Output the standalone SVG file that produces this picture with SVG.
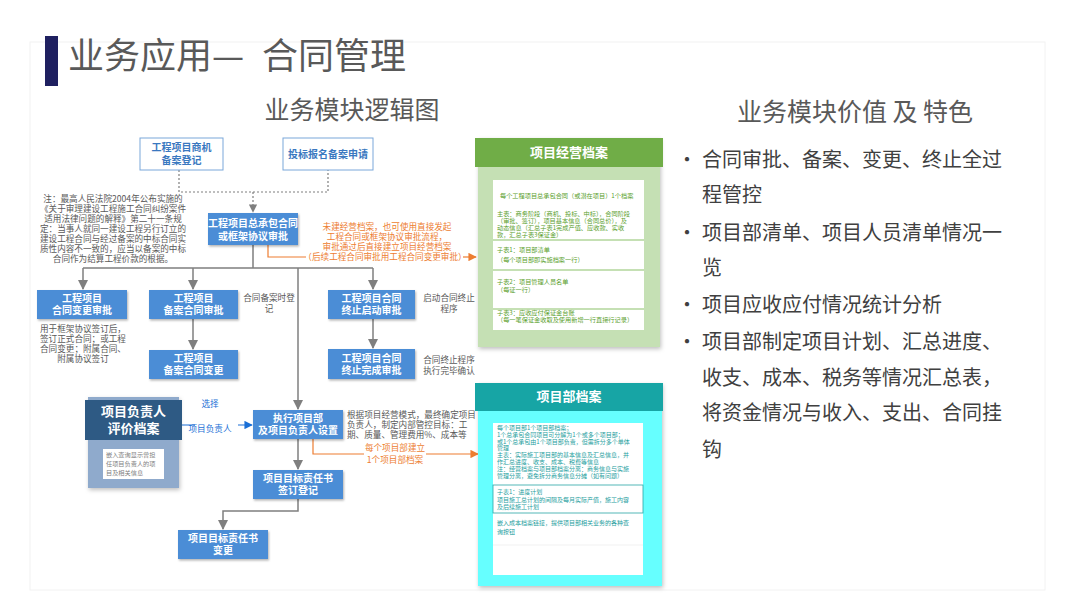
<svg xmlns="http://www.w3.org/2000/svg" width="1080" height="608" viewBox="0 0 1080 608">
<defs>
<filter id="sh" x="-10%" y="-10%" width="130%" height="140%"><feDropShadow dx="1" dy="1.5" stdDeviation="1.2" flood-color="#000" flood-opacity="0.3"/></filter>
<filter id="sh2" x="-10%" y="-10%" width="130%" height="130%"><feDropShadow dx="1" dy="2" stdDeviation="2" flood-color="#000" flood-opacity="0.25"/></filter>
<marker id="ag" viewBox="0 0 10 10" refX="9" refY="5" markerWidth="7" markerHeight="7" orient="auto"><path d="M0,0 L10,5 L0,10 z" fill="#7f7f7f"/></marker>
<marker id="ao" viewBox="0 0 10 10" refX="9" refY="5" markerWidth="7" markerHeight="7" orient="auto"><path d="M0,0 L10,5 L0,10 z" fill="#ed7d31"/></marker>
<marker id="ab" viewBox="0 0 10 10" refX="9" refY="5" markerWidth="7" markerHeight="7" orient="auto"><path d="M0,0 L10,5 L0,10 z" fill="#1a6fd6"/></marker>
<style>
text{font-family:"Noto Sans CJK SC","Noto Sans",sans-serif}
.bx{fill:#4b8dd6;filter:url(#sh)}
.bt{fill:#fff;font-size:10px;font-weight:bold;text-anchor:middle}
.ob{fill:#fff;stroke:#7aa7da;stroke-width:1}
.ot{fill:#3a78c0;font-size:10px;font-weight:bold;text-anchor:middle}
.nt{fill:#595959;font-size:8.6px}
.mid{text-anchor:middle}
.or{fill:#ed7d31;font-size:8.6px;text-anchor:middle}
.ln{fill:none;stroke:#7f7f7f;stroke-width:1.5}
.lo{fill:none;stroke:#ed7d31;stroke-width:1.2}
.gt{fill:#5aa02c;font-size:6.2px}
.ct{fill:#1e9e9e;font-size:6px}
.bl{fill:#404040;font-size:20px}
</style>
</defs>
<rect width="1080" height="608" fill="#fff"/>
<rect x="30" y="42" width="1015" height="548" fill="none" stroke="#f2f2f2" stroke-width="1"/>

<g id="title">
<rect x="45" y="36" width="13" height="50" fill="#1f2060"/>
<text x="68" y="69" font-size="36" fill="#595959">业务应用— <tspan x="262">合同管理</tspan></text>
<text x="352" y="119" font-size="25" fill="#595959" text-anchor="middle">业务模块逻辑图</text>
<text x="855" y="121" font-size="25" fill="#595959" text-anchor="middle">业务模块价值 及 特色</text>
</g>

<g id="bullets">
<text x="677" y="167" class="bl">•</text><text x="702" y="167" class="bl">合同审批、备案、变更、终止全过</text>
<text x="702" y="202" class="bl">程管控</text>
<text x="677" y="240" class="bl">•</text><text x="702" y="240" class="bl">项目部清单、项目人员清单情况一</text>
<text x="702" y="275" class="bl">览</text>
<text x="677" y="312" class="bl">•</text><text x="702" y="312" class="bl">项目应收应付情况统计分析</text>
<text x="677" y="349" class="bl">•</text><text x="702" y="349" class="bl">项目部制定项目计划、汇总进度、</text>
<text x="702" y="385" class="bl">收支、成本、税务等情况汇总表，</text>
<text x="702" y="420" class="bl">将资金情况与收入、支出、合同挂</text>
<text x="702" y="457" class="bl">钩</text>
</g>

<g id="connectors">
<path d="M179,170 V192 H328 V170" fill="none" stroke="#7f7f7f" stroke-width="1.2" stroke-dasharray="2,2"/>
<path d="M253,192 V212" fill="none" stroke="#7f7f7f" stroke-width="1.2" stroke-dasharray="2,2" marker-end="url(#ag)"/>
<path d="M253,245 V268 M83,268 H373" class="ln"/>
<path d="M83,268 V289" class="ln" marker-end="url(#ag)"/>
<path d="M193,268 V289" class="ln" marker-end="url(#ag)"/>
<path d="M373,268 V289" class="ln" marker-end="url(#ag)"/>
<path d="M298,268 V409" class="ln" marker-end="url(#ag)"/>
<path d="M193,319 V349" class="ln" marker-end="url(#ag)"/>
<path d="M373,319 V348" class="ln" marker-end="url(#ag)"/>
<path d="M298,439 V469" class="ln" marker-end="url(#ag)"/>
<path d="M298,499 V511 H223 V529" class="ln" marker-end="url(#ag)"/>
<path d="M268,245 V257 H306" class="lo"/>
<path d="M463,257 H476" class="lo" marker-end="url(#ao)"/>
<path d="M313,439 V454 H364 M426,454 H478" class="lo" marker-end="url(#ao)"/>
<path d="M182,425 H195 M238,425 H252" fill="none" stroke="#1a6fd6" stroke-width="1.2" marker-end="url(#ab)"/>
<text x="210" y="407" fill="#1a6fd6" font-size="8.6" text-anchor="middle">选择</text>
<text x="210" y="432" fill="#1a6fd6" font-size="8.6" text-anchor="middle">项目负责人</text>
<text x="395" y="451" class="or">每个项目部建立</text>
<text x="395" y="463" class="or">1个项目部档案</text>
<text x="387" y="230" class="or">未建经营档案，也可使用直接发起</text>
<text x="387" y="240" class="or">工程合同或框架协议审批流程，</text>
<text x="387" y="250" class="or">审批通过后直接建立项目经营档案</text>
<text x="385" y="260" class="or">（后续工程合同审批用工程合同变更审批）</text>
</g>

<g id="notes">
<text x="113" y="202" class="nt mid">注：最高人民法院2004年公布实施的</text>
<text x="113" y="212" class="nt mid">《关于审理建设工程施工合同纠纷案件</text>
<text x="113" y="222" class="nt mid">适用法律问题的解释》第二十一条规</text>
<text x="113" y="232" class="nt mid">定：当事人就同一建设工程另行订立的</text>
<text x="113" y="242" class="nt mid">建设工程合同与经过备案的中标合同实</text>
<text x="113" y="252" class="nt mid">质性内容不一致的，应当以备案的中标</text>
<text x="113" y="262" class="nt mid">合同作为结算工程价款的根据。</text>
<text x="83" y="332" class="nt mid">用于框架协议签订后，</text>
<text x="83" y="342" class="nt mid">签订正式合同；或工程</text>
<text x="83" y="352" class="nt mid">合同变更；附属合同、</text>
<text x="83" y="362" class="nt mid">附属协议签订</text>
<text x="269" y="301" class="nt mid">合同备案时登</text>
<text x="269" y="312" class="nt mid">记</text>
<text x="449" y="301" class="nt mid">启动合同终止</text>
<text x="449" y="312" class="nt mid">程序</text>
<text x="449" y="363" class="nt mid">合同终止程序</text>
<text x="449" y="374" class="nt mid">执行完毕确认</text>
<text x="347" y="418" class="nt">根据项目经营模式，最终确定项目</text>
<text x="347" y="428" class="nt">负责人，制定内部管控目标：工</text>
<text x="347" y="438" class="nt">期、质量、管理费用%、成本等</text>
</g>

<g id="n-shangji"><rect x="140" y="138" width="83" height="32" class="ob"/><text x="181.5" y="151" class="ot">工程项目商机</text><text x="181.5" y="164" class="ot">备案登记</text></g>
<g id="n-toubiao"><rect x="283" y="138" width="90" height="32" class="ob"/><text x="328" y="158" class="ot">投标报名备案申请</text></g>
<g id="n-main"><rect x="208" y="213" width="90" height="32" class="bx"/><text x="253" y="227" class="bt">工程项目总承包合同</text><text x="253" y="240" class="bt">或框架协议审批</text></g>
<g id="n-biangeng"><rect x="37" y="290" width="90" height="29" class="bx"/><text x="82" y="302" class="bt">工程项目</text><text x="82" y="314" class="bt">合同变更审批</text></g>
<g id="n-beian"><rect x="149" y="290" width="89" height="29" class="bx"/><text x="193.5" y="302" class="bt">工程项目</text><text x="193.5" y="314" class="bt">备案合同审批</text></g>
<g id="n-beianbg"><rect x="149" y="350" width="89" height="29" class="bx"/><text x="193.5" y="362" class="bt">工程项目</text><text x="193.5" y="374" class="bt">备案合同变更</text></g>
<g id="n-zzqd"><rect x="328" y="290" width="87" height="29" class="bx"/><text x="371.5" y="302" class="bt">工程项目合同</text><text x="371.5" y="314" class="bt">终止启动审批</text></g>
<g id="n-zzwc"><rect x="328" y="349" width="87" height="30" class="bx"/><text x="371.5" y="362" class="bt">工程项目合同</text><text x="371.5" y="374" class="bt">终止完成审批</text></g>
<g id="n-zhixing"><rect x="253" y="410" width="90" height="29" class="bx"/><text x="298" y="422" class="bt">执行项目部</text><text x="298" y="434" class="bt">及项目负责人设置</text></g>
<g id="n-qianding"><rect x="253" y="470" width="90" height="29" class="bx"/><text x="298" y="482" class="bt">项目目标责任书</text><text x="298" y="494" class="bt">签订登记</text></g>
<g id="n-zrsbg"><rect x="178" y="530" width="90" height="29" class="bx"/><text x="223" y="542" class="bt">项目目标责任书</text><text x="223" y="554" class="bt">变更</text></g>

<g id="n-pingjia">
<rect x="88" y="397" width="91" height="91" fill="#8faacc" filter="url(#sh2)"/>
<rect x="85" y="400" width="97" height="40" fill="#2e5a84"/>
<text x="133.5" y="416" fill="#fff" font-size="13" font-weight="bold" text-anchor="middle">项目负责人</text>
<text x="133.5" y="433" fill="#fff" font-size="13" font-weight="bold" text-anchor="middle">评价档案</text>
<rect x="103" y="449" width="61" height="30" fill="#fff"/>
<text x="106" y="457" fill="#7f7f7f" font-size="6.2">嵌入查询显示曾担</text>
<text x="106" y="466" fill="#7f7f7f" font-size="6.2">任项目负责人的项</text>
<text x="106" y="475" fill="#7f7f7f" font-size="6.2">目及相关信息</text>
</g>

<g id="n-jingying">
<rect x="478" y="138" width="182" height="209" fill="#c5e0b4" filter="url(#sh2)"/>
<rect x="475" y="138" width="188" height="29" fill="#70ad47"/>
<text x="569" y="157" fill="#fff" font-size="13" font-weight="bold" text-anchor="middle">项目经营档案</text>
<rect x="493" y="180" width="151" height="59" fill="#fff"/>
<rect x="493" y="241" width="151" height="28" fill="#fff"/>
<rect x="493" y="271" width="151" height="37" fill="#fff"/>
<rect x="493" y="310" width="151" height="20" fill="#fff"/>
<text x="500" y="198" class="gt">每个工程项目总承包合同（或潜在项目）1个档案</text>
<text x="497" y="216" class="gt">主表：商务阶段（商机、投标、中标），合同阶段</text>
<text x="497" y="223" class="gt">（审批、签订），项目基本信息（合同总价），及</text>
<text x="497" y="230" class="gt">动态信息（汇总子表1完成产值、应收款、实收</text>
<text x="497" y="237" class="gt">款，汇总子表3保证金）</text>
<text x="497" y="252" class="gt">子表1：项目部清单</text>
<text x="497" y="262" class="gt">（每个项目部即实施档案一行）</text>
<text x="497" y="284" class="gt">子表2：项目管理人员名单</text>
<text x="497" y="292" class="gt">（每证一行）</text>
<text x="497" y="315" class="gt">子表3：应收应付保证金台账</text>
<text x="497" y="322" class="gt">（每一笔保证金收取及使用新增一行直接行记录）</text>
</g>

<g id="n-xiangmubu">
<rect x="478" y="383" width="184" height="203" fill="#66ffff" filter="url(#sh2)"/>
<rect x="475" y="383" width="188" height="28" fill="#17a5a5"/>
<text x="569" y="401" fill="#fff" font-size="13" font-weight="bold" text-anchor="middle">项目部档案</text>
<rect x="493" y="423" width="150" height="152" fill="#fff"/>
<text x="497" y="430" class="ct">每个项目部1个项目部档案；</text>
<text x="497" y="436.8" class="ct">1个总承包合同项目可分解为1个或多个项目部；</text>
<text x="497" y="443.6" class="ct">或1个总承包由1个项目部负责，但需拆分多个单体</text>
<text x="497" y="450.4" class="ct">管理</text>
<text x="497" y="457.2" class="ct">主表：实际施工项目部的基本信息及汇总信息，并</text>
<text x="497" y="464" class="ct">作汇总进度、收支、成本、税费等信息</text>
<text x="497" y="470.8" class="ct">注：经营档案与项目部档案分离：商务信息与实施</text>
<text x="497" y="477.6" class="ct">管理分离，避免拆分商务信息分摊（如有问题）</text>
<rect x="493" y="485" width="150" height="28" fill="none" stroke="#2aa5a5" stroke-width="0.8"/>
<text x="497" y="494" class="ct">子表1：进度计划</text>
<text x="497" y="501.5" class="ct">项目施工总计划的间隔及每月实际产值，施工内容</text>
<text x="497" y="509" class="ct">及后续施工计划</text>
<text x="497" y="525" class="ct">嵌入成本档案链接，提供项目部相关业务的各种查</text>
<text x="497" y="534" class="ct">询按钮</text>
<line x1="493" y1="545" x2="643" y2="545" stroke="#eeeeee" stroke-width="0.8"/>
</g>
</svg>
